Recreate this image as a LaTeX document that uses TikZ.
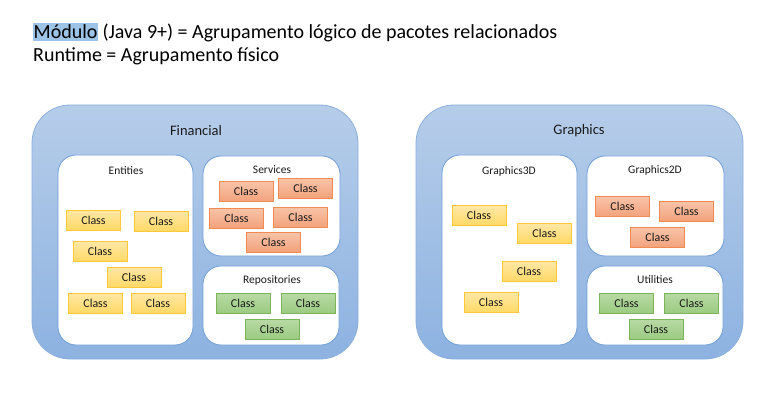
\documentclass[tikz,border=0pt]{standalone}
\usepackage{fontspec}
\setmainfont{Carlito}
\usetikzlibrary{positioning}
\definecolor{outtop}{HTML}{B6CDE9}
\definecolor{outbot}{HTML}{8DB2E1}
\definecolor{outline}{HTML}{8AAEDC}
\definecolor{inline}{HTML}{6E9ED6}
\definecolor{yeltop}{HTML}{FFE8A6}
\definecolor{yelbot}{HTML}{FFD966}
\definecolor{yelline}{HTML}{FFC83A}
\definecolor{redtop}{HTML}{F8C4A9}
\definecolor{redbot}{HTML}{F3A27C}
\definecolor{redline}{HTML}{EE8A52}
\definecolor{grntop}{HTML}{B9DAA5}
\definecolor{grnbot}{HTML}{9BCB81}
\definecolor{grnline}{HTML}{7DB45A}
\definecolor{hl}{HTML}{9DC3E6}
\definecolor{txt}{HTML}{1A1A1A}
\tikzset{
  module/.style={draw=outline, line width=0.8pt, rounded corners=38pt, top color=outtop, bottom color=outbot},
  pkg/.style={draw=inline, line width=0.8pt, rounded corners=18pt, fill=white},
  cls/.style={minimum width=54pt, minimum height=20pt, inner sep=0pt, font=\fontsize{12}{14}\selectfont, text=txt, line width=0.8pt},
  ycls/.style={cls, draw=yelline, top color=yeltop, bottom color=yelbot},
  rcls/.style={cls, draw=redline, top color=redtop, bottom color=redbot},
  gcls/.style={cls, draw=grnline, top color=grntop, bottom color=grnbot},
  modlabel/.style={font=\fontsize{14.5}{16}\selectfont, text=txt},
  pkglabel/.style={font=\fontsize{11.5}{13}\selectfont, text=txt},
  title/.style={anchor=base west, inner sep=0pt, font=\fontsize{20}{23}\selectfont, text=black}
}
\begin{document}
\begin{tikzpicture}[x=1pt,y=-1pt]
\useasboundingbox (0,0) rectangle (771,409);
% Title
\node[title] (t1) at (33,38.5) {{\setlength{\fboxsep}{0.5pt}\colorbox{hl}{\rule[-2.5pt]{0pt}{17pt}Módulo}} (Java 9+) = Agrupamento lógico de pacotes relacionados};
\node[title] (t2) at (33,62) {Runtime = Agrupamento físico};
% Financial module
\draw[module] (32,105) rectangle (358,359);
\node[modlabel] (fin) at (196,131) {Financial};
\draw[pkg] (58,155) rectangle (193,345);
\node[pkglabel] (ent) at (126,171) {Entities};
\draw[pkg] (203,156) rectangle (340,256);
\node[pkglabel] (srv) at (272,170) {Services};
\draw[pkg] (203,266) rectangle (339,345);
\node[pkglabel] (rep) at (272,280) {Repositories};
\node[ycls] (e1) at (93.5,220) {Class};
\node[ycls] (e2) at (161,221) {Class};
\node[ycls] (e3) at (100,251.5) {Class};
\node[ycls] (e4) at (134,277) {Class};
\node[ycls] (e5) at (95.5,303) {Class};
\node[ycls] (e6) at (158,303) {Class};
\node[rcls] (s1) at (246,191.5) {Class};
\node[rcls] (s2) at (305.5,188) {Class};
\node[rcls] (s3) at (236.5,218) {Class};
\node[rcls] (s4) at (300.5,217) {Class};
\node[rcls] (s5) at (273.5,242) {Class};
\node[gcls] (r1) at (243,303) {Class};
\node[gcls] (r2) at (308,303) {Class};
\node[gcls] (r3) at (272,329) {Class};
% Graphics module
\draw[module] (416,105) rectangle (743,359);
\node[modlabel] (gra) at (579,131) {Graphics};
\draw[pkg] (442,155) rectangle (577,345);
\node[pkglabel] (g3) at (509,171) {Graphics3D};
\draw[pkg] (587,156) rectangle (724,256);
\node[pkglabel] (g2) at (655,170) {Graphics2D};
\draw[pkg] (587,266) rectangle (723,345);
\node[pkglabel] (ut) at (655,280) {Utilities};
\node[ycls] (a1) at (479,215.5) {Class};
\node[ycls] (a2) at (544.5,233) {Class};
\node[ycls] (a3) at (529,271) {Class};
\node[ycls] (a4) at (491,302) {Class};
\node[rcls] (b1) at (622.5,206.5) {Class};
\node[rcls] (b2) at (686.5,211) {Class};
\node[rcls] (b3) at (657.5,237.5) {Class};
\node[gcls] (u1) at (626.5,303) {Class};
\node[gcls] (u2) at (691.5,303) {Class};
\node[gcls] (u3) at (656,329) {Class};
\end{tikzpicture}
\end{document}
